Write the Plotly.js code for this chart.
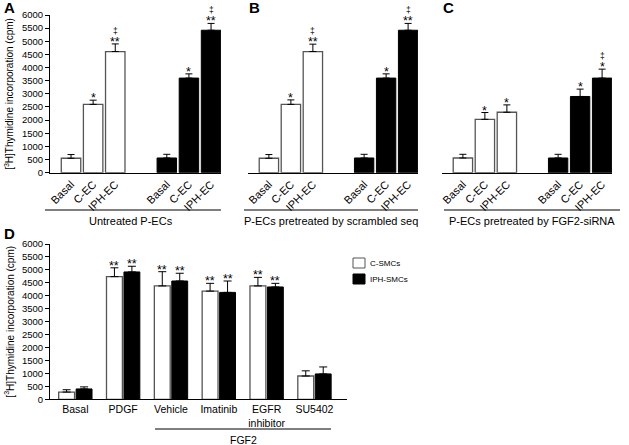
<!DOCTYPE html>
<html>
<head>
<meta charset="utf-8">
<script src="https://cdn.plot.ly/plotly-3.0.1.min.js"></script>
<style>html,body{margin:0;padding:0;background:#fff;}#chart{width:629px;height:445px;}</style>
</head>
<body>
<div id="chart"></div>
<script>
// ---------- DATA ----------
const abcCategories = ["Basal", "C-EC", "IPH-EC"];

const panelAWhite = [550, 2600, 4610];
const panelAWhiteErr = [140, 160, 290];
const panelABlack = [560, 3600, 5420];
const panelABlackErr = [140, 160, 260];
const panelAWhiteSig = ["", "*", "**"];
const panelAWhiteDag = ["", "", "‡"];
const panelABlackSig = ["", "*", "**"];
const panelABlackDag = ["", "", "‡"];

const panelBWhite = [550, 2600, 4610];
const panelBWhiteErr = [140, 170, 280];
const panelBBlack = [560, 3600, 5420];
const panelBBlackErr = [140, 160, 260];
const panelBWhiteSig = ["", "*", "**"];
const panelBWhiteDag = ["", "", "‡"];
const panelBBlackSig = ["", "*", "**"];
const panelBBlackDag = ["", "", "‡"];

const panelCWhite = [560, 2030, 2300];
const panelCWhiteErr = [140, 260, 280];
const panelCBlack = [560, 2900, 3600];
const panelCBlackErr = [140, 280, 340];
const panelCWhiteSig = ["", "*", "*"];
const panelCWhiteDag = ["", "", ""];
const panelCBlackSig = ["", "*", "*"];
const panelCBlackDag = ["", "", "‡"];

const panelGroupLabels = ["Untreated P-ECs", "P-ECs pretreated by scrambled seq", "P-ECs pretreated by FGF2-siRNA"];
const panelLetters = ["A", "B", "C", "D"];

const dCategories = ["Basal", "PDGF", "Vehicle", "Imatinib", "EGFR<br>inhibitor", "SU5402"];
const dSeriesNames = ["C-SMCs", "IPH-SMCs"];
const dCSMC = [280, 4740, 4380, 4180, 4380, 900];
const dCSMCErr = [90, 340, 550, 300, 330, 200];
const dIPH = [400, 4920, 4570, 4130, 4340, 980];
const dIPHErr = [80, 220, 300, 440, 140, 270];
const dCSMCSig = ["", "**", "**", "**", "**", ""];
const dIPHSig = ["", "**", "**", "**", "**", ""];
const dBracketLabel = "FGF2";

const yTitle = "[<sup>3</sup>H]Thymidine incorporation (cpm)";

// ---------- LAYOUT HELPERS ----------
const W = 629, H = 445;
const FONT = "Liberation Sans, Arial, Helvetica, sans-serif";
const px = v => v / W;
const py = v => 1 - v / H;
const GROUP_OFFSET = 4.33;
const BAR_W = 0.88;
const WHITE_LINE = "#555";

const traces = [];
const annotations = [];
const shapes = [];

function errSpec(arr, w) {
  return {type: "data", symmetric: false, array: arr, arrayminus: arr.map(() => 0),
          color: "#000", thickness: 1, width: w, visible: true};
}

function addSig(xref, yref, xs, vals, errs, sig, dag) {
  xs.forEach((x, i) => {
    const top = vals[i] + errs[i];
    if (sig[i]) annotations.push({xref, yref, x, y: top, text: sig[i], showarrow: false,
      yanchor: "middle", yshift: 2, font: {family: FONT, size: 12.5, color: "#000"}});
    if (dag && dag[i]) annotations.push({xref, yref, x, y: top, text: dag[i], showarrow: false,
      yanchor: "middle", yshift: 13, font: {family: FONT, size: 8.5, color: "#000"}});
  });
}

const panels = [
  {w: panelAWhite, we: panelAWhiteErr, b: panelABlack, be: panelABlackErr,
   ws: panelAWhiteSig, wd: panelAWhiteDag, bs: panelABlackSig, bd: panelABlackDag},
  {w: panelBWhite, we: panelBWhiteErr, b: panelBBlack, be: panelBBlackErr,
   ws: panelBWhiteSig, wd: panelBWhiteDag, bs: panelBBlackSig, bd: panelBBlackDag},
  {w: panelCWhite, we: panelCWhiteErr, b: panelCBlack, be: panelCBlackErr,
   ws: panelCWhiteSig, wd: panelCWhiteDag, bs: panelCBlackSig, bd: panelCBlackDag}
];
const panelXDom = [[50, 221], [248, 418], [442, 612]];
const lineSpan = [[45, 221], [244, 418], [444, 620]];
const labelCenter = [131, 331, 532];
const letterX = [9, 254, 449];

const layout = {
  width: W, height: H, margin: {l: 0, r: 0, t: 0, b: 0},
  paper_bgcolor: "#fff", plot_bgcolor: "rgba(0,0,0,0)",
  font: {family: FONT, color: "#000", size: 10},
  barmode: "group", bargap: 0.27, bargroupgap: 0.09,
  showlegend: false
};

panels.forEach((p, k) => {
  const sfx = k === 0 ? "" : String(k + 1);
  const xr = "x" + sfx, yr = "y" + sfx;
  const wx = abcCategories.map((_, i) => i);
  const bx = abcCategories.map((_, i) => i + GROUP_OFFSET);
  traces.push({type: "bar", x: wx, y: p.w, xaxis: xr, yaxis: yr, width: BAR_W, offset: -BAR_W / 2,
    marker: {color: "#fff", line: {color: WHITE_LINE, width: 1.3}}, error_y: errSpec(p.we, 3.5),
    showlegend: false, hoverinfo: "skip"});
  traces.push({type: "bar", x: bx, y: p.b, xaxis: xr, yaxis: yr, width: BAR_W, offset: -BAR_W / 2,
    marker: {color: "#000", line: {color: "#000", width: 1}}, error_y: errSpec(p.be, 3.5),
    showlegend: false, hoverinfo: "skip"});
  addSig(xr, yr, wx, p.w, p.we, p.ws, p.wd);
  addSig(xr, yr, bx, p.b, p.be, p.bs, p.bd);

  layout["xaxis" + sfx] = {
    domain: [px(panelXDom[k][0]), px(panelXDom[k][1])], anchor: yr,
    range: [-0.95, 6.78], showline: true, linecolor: "#000", linewidth: 1,
    showgrid: false, zeroline: false, ticks: "",
    tickmode: "array", tickvals: wx.concat(bx), ticktext: abcCategories.concat(abcCategories),
    tickangle: -45, tickfont: {family: FONT, size: 11, color: "#000"}, fixedrange: true
  };
  layout["yaxis" + sfx] = {
    domain: [py(172.7), py(15)], anchor: xr, range: [0, 6000],
    showgrid: false, zeroline: false, fixedrange: true,
    visible: k === 0, showline: k === 0, linecolor: "#000", linewidth: 1,
    ticks: "outside", ticklen: 4, tickwidth: 1, tickcolor: "#000", dtick: 500,
    tickfont: {family: FONT, size: 9.5, color: "#000"}
  };
  shapes.push({type: "line", xref: "paper", yref: "paper",
    x0: px(lineSpan[k][0]), x1: px(lineSpan[k][1]), y0: py(210), y1: py(210),
    line: {color: "#000", width: 1.2}});
  annotations.push({xref: "paper", yref: "paper", x: px(labelCenter[k]), y: py(221),
    text: panelGroupLabels[k], showarrow: false, xanchor: "center", yanchor: "middle",
    font: {family: FONT, size: 11, color: "#000"}});
  annotations.push({xref: "paper", yref: "paper", x: px(letterX[k]), y: py(8),
    text: "<b>" + panelLetters[k] + "</b>", showarrow: false, xanchor: "center", yanchor: "middle",
    font: {family: FONT, size: 15, color: "#000"}});
});

// Panel D
traces.push({type: "bar", name: dSeriesNames[0], x: dCategories, y: dCSMC, xaxis: "x4", yaxis: "y4",
  marker: {color: "#fff", line: {color: WHITE_LINE, width: 1.3}}, error_y: errSpec(dCSMCErr, 4),
  hoverinfo: "skip"});
traces.push({type: "bar", name: dSeriesNames[1], x: dCategories, y: dIPH, xaxis: "x4", yaxis: "y4",
  marker: {color: "#000", line: {color: "#000", width: 1}}, error_y: errSpec(dIPHErr, 4),
  hoverinfo: "skip"});
const slot = (1 - layout.bargap) / 2;
addSig("x4", "y4", dCategories.map((_, i) => i - slot / 2), dCSMC, dCSMCErr, dCSMCSig, null);
addSig("x4", "y4", dCategories.map((_, i) => i + slot / 2), dIPH, dIPHErr, dIPHSig, null);

layout.xaxis4 = {domain: [px(50), px(347)], anchor: "y4", type: "category",
  range: [-0.53, 5.68], showline: true, linecolor: "#000", linewidth: 1,
  showgrid: false, zeroline: false, ticks: "", tickangle: 0,
  tickfont: {family: FONT, size: 10.5, color: "#000"}, fixedrange: true};
layout.yaxis4 = {domain: [py(399.3), py(244)], anchor: "x4", range: [0, 6000],
  showgrid: false, zeroline: false, showline: true, linecolor: "#000", linewidth: 1,
  ticks: "outside", ticklen: 4, tickwidth: 1, tickcolor: "#000", dtick: 500,
  tickfont: {family: FONT, size: 9.5, color: "#000"}, fixedrange: true};

shapes.push({type: "line", xref: "paper", yref: "paper", x0: px(155), x1: px(331),
  y0: py(429), y1: py(429), line: {color: "#000", width: 1.2}});
annotations.push({xref: "paper", yref: "paper", x: px(243), y: py(440), text: dBracketLabel,
  showarrow: false, xanchor: "center", yanchor: "middle", font: {family: FONT, size: 10.5, color: "#000"}});
annotations.push({xref: "paper", yref: "paper", x: px(9), y: py(233), text: "<b>" + panelLetters[3] + "</b>",
  showarrow: false, xanchor: "center", yanchor: "middle", font: {family: FONT, size: 15, color: "#000"}});

// legend (drawn by hand to match the reference's compact key)
const legendFills = ["#fff", "#000"];
const legendLines = [WHITE_LINE, "#000"];
dSeriesNames.forEach((name, i) => {
  const top = 258 + i * 16;
  shapes.push({type: "rect", xref: "paper", yref: "paper", x0: px(353), x1: px(365),
    y0: py(top + 10), y1: py(top), fillcolor: legendFills[i], line: {color: legendLines[i], width: 1}});
  annotations.push({xref: "paper", yref: "paper", x: px(368), y: py(top + 5), text: name,
    showarrow: false, xanchor: "left", yanchor: "middle", font: {family: FONT, size: 8, color: "#000"}});
});

// y-axis titles
[[py(172.7), py(15)], [py(399.3), py(244)]].forEach(d => {
  annotations.push({xref: "paper", yref: "paper", x: px(9), y: (d[0] + d[1]) / 2, text: yTitle,
    textangle: -90, showarrow: false, xanchor: "center", yanchor: "middle",
    font: {family: FONT, size: 10, color: "#000"}});
});

layout.annotations = annotations;
layout.shapes = shapes;

Plotly.newPlot("chart", traces, layout, {staticPlot: true, displayModeBar: false});
</script>
</body>
</html>
